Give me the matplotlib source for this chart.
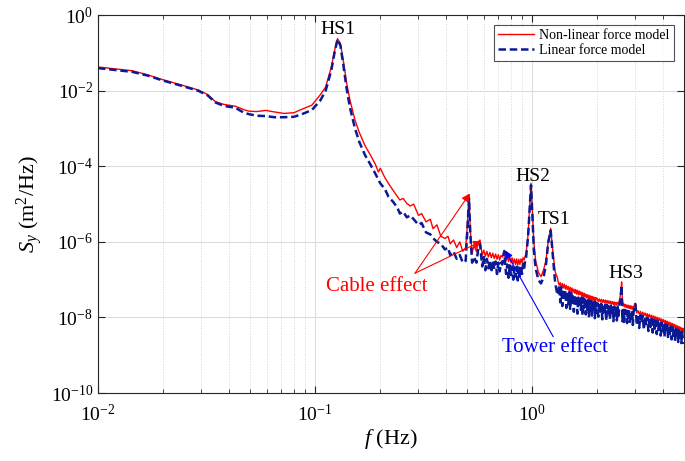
import numpy as np
import matplotlib
matplotlib.use('Agg')
import matplotlib.pyplot as plt
from matplotlib.ticker import LogLocator, NullLocator, NullFormatter

plt.rcParams['font.family'] = ['Liberation Serif', 'DejaVu Serif']
plt.rcParams['mathtext.fontset'] = 'custom'
plt.rcParams['mathtext.rm'] = 'Liberation Serif'
plt.rcParams['mathtext.it'] = 'Liberation Serif:italic'

# values: frequency (Hz) and log10 of S_y, in segments

# low frequency part up to the cable peaks
freq_low = [0.010, 0.012, 0.0144, 0.017, 0.0197, 0.024, 0.029, 0.032, 0.0348, 0.038,
            0.043, 0.047, 0.0497, 0.054, 0.0593, 0.065, 0.072, 0.080, 0.087, 0.0968,
            0.106, 0.112, 0.119, 0.123, 0.127, 0.131, 0.135, 0.140, 0.145, 0.153,
            0.160, 0.170, 0.180, 0.190, 0.196, 0.200, 0.210, 0.218, 0.230, 0.240,
            0.246, 0.255, 0.265, 0.275, 0.285, 0.300, 0.310, 0.325, 0.340, 0.350,
            0.365, 0.380, 0.397, 0.410, 0.420, 0.435, 0.450, 0.465, 0.480, 0.495,
            0.503, 0.513, 0.520, 0.530, 0.540, 0.555, 0.565, 0.576]
nl_low = [-1.37, -1.42, -1.47, -1.58, -1.70, -1.84, -1.98, -2.10, -2.29, -2.36,
          -2.41, -2.50, -2.54, -2.55, -2.52, -2.56, -2.60, -2.58, -2.49, -2.38,
          -2.10, -1.90, -1.37, -0.95, -0.62, -0.75, -1.19, -1.80, -2.25, -2.78,
          -3.10, -3.45, -3.70, -3.95, -4.15, -4.05, -4.30, -4.45, -4.65, -4.80,
          -4.89, -4.85, -4.98, -5.05, -5.00, -5.30, -5.25, -5.47, -5.40, -5.65,
          -5.55, -5.85, -5.91, -5.85, -6.05, -5.95, -6.15, -6.00, -6.25, -6.15,
          -5.60, -4.76, -5.70, -6.30, -6.10, -6.25, -6.00, -5.95]
lin_low = [-1.40, -1.45, -1.50, -1.60, -1.72, -1.86, -2.00, -2.12, -2.31, -2.40,
           -2.45, -2.58, -2.62, -2.66, -2.67, -2.70, -2.70, -2.69, -2.62, -2.51,
           -2.25, -2.00, -1.45, -1.00, -0.64, -0.80, -1.30, -1.95, -2.45, -3.00,
           -3.35, -3.70, -3.95, -4.20, -4.35, -4.45, -4.60, -4.80, -4.95, -5.10,
           -5.25, -5.20, -5.35, -5.30, -5.40, -5.55, -5.50, -5.75, -5.80, -5.90,
           -6.00, -6.05, -6.20, -6.15, -6.35, -6.25, -6.45, -6.35, -6.55, -6.50,
           -5.75, -4.85, -5.80, -6.55, -6.40, -6.55, -6.20, -6.05]

# noisy band with the tower bump
freq_mid = [0.590, 0.600, 0.610, 0.620, 0.630, 0.640, 0.650, 0.660, 0.670, 0.680,
            0.690, 0.700, 0.710, 0.720, 0.730, 0.738, 0.745, 0.752, 0.760, 0.770,
            0.780, 0.790, 0.800, 0.810, 0.820, 0.830, 0.840, 0.850, 0.860, 0.870,
            0.880, 0.890, 0.900, 0.910, 0.920, 0.930, 0.940]
nl_mid = [-6.35, -6.22, -6.38, -6.25, -6.40, -6.28, -6.42, -6.30, -6.44, -6.32,
          -6.46, -6.34, -6.48, -6.36, -6.40, -6.30, -6.22, -6.40, -6.50, -6.38,
          -6.52, -6.40, -6.55, -6.42, -6.58, -6.45, -6.60, -6.45, -6.62, -6.46,
          -6.60, -6.45, -6.55, -6.42, -6.48, -6.38, -6.30]
lin_mid = [-6.65, -6.40, -6.75, -6.45, -6.70, -6.48, -6.80, -6.50, -6.72, -6.52,
           -6.85, -6.55, -6.78, -6.55, -6.60, -6.40, -6.25, -6.55, -6.85, -6.60,
           -6.95, -6.62, -6.88, -6.65, -7.00, -6.68, -6.92, -6.66, -7.02, -6.65,
           -6.95, -6.62, -6.85, -6.58, -6.72, -6.50, -6.40]

# HS2 and TS1
freq_peaks = [0.960, 0.975, 0.990, 1.005, 1.020, 1.040, 1.070, 1.100, 1.130, 1.160,
              1.190, 1.220, 1.250, 1.280, 1.310]
nl_peaks = [-5.80, -5.10, -4.45, -5.20, -6.00, -6.50, -6.80, -6.92, -6.75, -6.50,
            -5.95, -5.64, -6.30, -6.80, -6.95]
lin_peaks = [-5.85, -5.15, -4.50, -5.30, -6.20, -6.70, -7.00, -7.10, -6.95, -6.60,
             -6.00, -5.70, -6.40, -7.10, -7.40]

# dense band 1.3 - 2 Hz
freq_a = [1.320, 1.335, 1.350, 1.365, 1.380, 1.395, 1.410, 1.425, 1.440, 1.455,
          1.470, 1.485, 1.500, 1.515, 1.530, 1.545, 1.560, 1.575, 1.590, 1.605,
          1.620, 1.635, 1.650, 1.665, 1.680, 1.695, 1.710, 1.725, 1.740, 1.755,
          1.770, 1.785, 1.800, 1.815, 1.830, 1.845, 1.860, 1.875, 1.890, 1.905,
          1.920, 1.935, 1.950, 1.965, 1.980]
nl_a = [-7.05, -7.15, -7.08, -7.20, -7.10, -7.22, -7.12, -7.25, -7.15, -7.26,
        -7.18, -7.30, -7.20, -7.32, -7.22, -7.33, -7.25, -7.36, -7.26, -7.38,
        -7.28, -7.40, -7.30, -7.40, -7.32, -7.43, -7.34, -7.45, -7.36, -7.46,
        -7.38, -7.48, -7.40, -7.50, -7.41, -7.51, -7.43, -7.52, -7.44, -7.54,
        -7.46, -7.55, -7.47, -7.56, -7.48]
lin_a = [-7.40, -7.15, -7.60, -7.20, -7.70, -7.25, -7.55, -7.28, -7.75, -7.30,
         -7.65, -7.33, -7.80, -7.35, -7.60, -7.38, -7.85, -7.40, -7.70, -7.42,
         -7.90, -7.44, -7.72, -7.45, -7.80, -7.47, -7.95, -7.49, -7.75, -7.50,
         -7.92, -7.52, -7.78, -7.54, -8.00, -7.55, -7.82, -7.56, -7.95, -7.58,
         -7.85, -7.59, -8.02, -7.60, -7.88]

# dense band 2 - 3 Hz with HS3
freq_b = [2.000, 2.022, 2.044, 2.066, 2.088, 2.110, 2.132, 2.154, 2.176, 2.198,
          2.220, 2.242, 2.264, 2.286, 2.308, 2.330, 2.352, 2.374, 2.396, 2.418,
          2.440, 2.462, 2.484, 2.506, 2.528, 2.550, 2.572, 2.590, 2.610, 2.632,
          2.654, 2.676, 2.698, 2.720, 2.742, 2.764, 2.786, 2.808, 2.830, 2.852,
          2.874, 2.896, 2.918, 2.940, 2.960, 2.980]
nl_b = [-7.50, -7.58, -7.51, -7.59, -7.52, -7.60, -7.53, -7.61, -7.54, -7.62,
        -7.55, -7.63, -7.56, -7.64, -7.57, -7.65, -7.58, -7.66, -7.59, -7.67,
        -7.60, -7.68, -7.60, -7.62, -7.55, -7.45, -7.25, -7.06, -7.50, -7.70,
        -7.64, -7.72, -7.66, -7.74, -7.67, -7.75, -7.68, -7.76, -7.69, -7.77,
        -7.70, -7.78, -7.71, -7.75, -7.68, -7.63]
lin_b = [-7.62, -7.98, -7.63, -7.85, -7.64, -8.05, -7.65, -7.90, -7.66, -8.08,
         -7.67, -7.88, -7.68, -8.05, -7.69, -7.92, -7.70, -8.10, -7.71, -7.95,
         -7.72, -8.08, -7.72, -7.95, -7.65, -7.60, -7.35, -7.15, -8.10, -7.80,
         -8.12, -7.80, -7.98, -7.82, -8.15, -7.83, -8.00, -7.84, -8.18, -7.85,
         -8.02, -7.86, -8.20, -7.85, -7.75, -7.66]

# dense band 3 - 5 Hz
freq_c = [3.00, 3.04, 3.08, 3.12, 3.16, 3.20, 3.24, 3.28, 3.32, 3.36,
          3.40, 3.44, 3.48, 3.52, 3.56, 3.60, 3.64, 3.68, 3.72, 3.76,
          3.80, 3.84, 3.88, 3.92, 3.96, 4.00, 4.04, 4.08, 4.12, 4.16,
          4.20, 4.24, 4.28, 4.32, 4.36, 4.40, 4.44, 4.48, 4.52, 4.56,
          4.60, 4.64, 4.68, 4.72, 4.76, 4.80, 4.84, 4.88, 4.92, 4.96,
          5.00]
nl_c = [-7.63, -7.88, -7.82, -7.91, -7.84, -7.93, -7.86, -7.95, -7.88, -7.97,
        -7.90, -7.99, -7.92, -8.01, -7.94, -8.03, -7.96, -8.05, -7.98, -8.07,
        -8.00, -8.09, -8.02, -8.11, -8.04, -8.13, -8.06, -8.15, -8.08, -8.17,
        -8.10, -8.19, -8.12, -8.21, -8.14, -8.23, -8.16, -8.25, -8.18, -8.27,
        -8.20, -8.29, -8.22, -8.31, -8.24, -8.33, -8.26, -8.35, -8.28, -8.37,
        -8.30]
lin_c = [-7.65, -8.20, -7.92, -8.28, -7.94, -8.15, -7.96, -8.32, -7.98, -8.20,
         -8.00, -8.36, -8.02, -8.25, -8.04, -8.40, -8.06, -8.30, -8.08, -8.44,
         -8.10, -8.33, -8.12, -8.48, -8.14, -8.36, -8.16, -8.52, -8.18, -8.40,
         -8.20, -8.55, -8.22, -8.44, -8.24, -8.58, -8.26, -8.48, -8.28, -8.62,
         -8.30, -8.52, -8.32, -8.65, -8.34, -8.55, -8.36, -8.68, -8.38, -8.58,
         -8.70]

freq = np.array(freq_low + freq_mid + freq_peaks + freq_a + freq_b + freq_c)
s_nonlinear = 10.0 ** np.array(nl_low + nl_mid + nl_peaks + nl_a + nl_b + nl_c)
s_linear = 10.0 ** np.array(lin_low + lin_mid + lin_peaks + lin_a + lin_b + lin_c)

fig = plt.figure(figsize=(6.85, 4.61), dpi=100)
ax = fig.add_axes([0.143, 0.1475, 0.855, 0.8195])

ax.loglog(freq, s_nonlinear, color='#ff0000', lw=1.0, label='Non-linear force model')
ax.loglog(freq, s_linear, color='#0a1a96', lw=1.8, ls=(0, (3, 1.5)), label='Linear force model')

ax.set_xlim(1e-2, 5)
ax.set_ylim(1e-10, 1e0)
ax.yaxis.set_major_locator(LogLocator(base=100.0, numticks=10))
ax.yaxis.set_minor_locator(NullLocator())
ax.xaxis.set_minor_locator(LogLocator(base=10.0, subs=np.arange(2, 10), numticks=20))
ax.xaxis.set_minor_formatter(NullFormatter())

ax.grid(True, which='major', color='#dcdcdc', lw=0.8, ls='-')
ax.grid(True, which='minor', axis='x', color='#d4d4d4', lw=0.7, ls=':')
ax.set_axisbelow(True)

ax.tick_params(which='both', direction='in', top=True, right=True, colors='#262626',
               labelcolor='black', labelsize=14)
ax.tick_params(which='major', length=5)
ax.tick_params(which='minor', length=3)
ax.tick_params(axis='x', pad=8)
for sp in ax.spines.values():
    sp.set_color('#262626')
    sp.set_linewidth(0.8)

ax.set_xlabel('$f$ (Hz)', fontsize=16, labelpad=1)
ax.set_ylabel('$S_y$ (m$^2$/Hz)', fontsize=16, labelpad=4)

ax.text(0.127, 10 ** -0.37, 'HS1', fontsize=14, ha='center', va='center')
ax.text(1.01, 10 ** -4.28, 'HS2', fontsize=14, ha='center', va='center')
ax.text(1.27, 10 ** -5.42, 'TS1', fontsize=14, ha='center', va='center')
ax.text(2.72, 10 ** -6.85, 'HS3', fontsize=14, ha='center', va='center')

ax.text(0.192, 10 ** -7.19, 'Cable effect', color='#ff0000', fontsize=15,
        ha='center', va='center')
ax.text(1.277, 10 ** -8.80, 'Tower effect', color='#0000ff', fontsize=15,
        ha='center', va='center')

red_arrow = dict(arrowstyle='-|>', color='#ff0000', lw=0.8, mutation_scale=12, shrinkA=0, shrinkB=0)
ax.annotate('', xy=(0.517, 10 ** -4.72), xytext=(0.289, 10 ** -6.83), arrowprops=red_arrow)
ax.annotate('', xy=(0.586, 10 ** -5.98), xytext=(0.289, 10 ** -6.83), arrowprops=red_arrow)
blue_arrow = dict(arrowstyle='-|>', color='#0000ff', lw=0.8, mutation_scale=12, shrinkA=0, shrinkB=0)
ax.annotate('', xy=(0.751, 10 ** -6.22), xytext=(1.253, 10 ** -8.51), arrowprops=blue_arrow)

leg = ax.legend(loc='upper right', fontsize=10, frameon=True, fancybox=False,
                edgecolor='#262626', borderpad=0.3, handlelength=2.6, labelspacing=0.15,
                handletextpad=0.4, borderaxespad=0.7)
leg.get_frame().set_linewidth(0.8)

fig.savefig('out.png', dpi=100)
